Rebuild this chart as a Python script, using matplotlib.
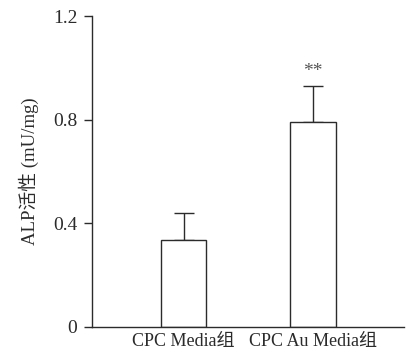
import numpy as np
import matplotlib
matplotlib.use("Agg")
import matplotlib.pyplot as plt

groups = ["CPC Media组", "CPC Au Media组"]
values = [0.336, 0.792]
errors = [0.102, 0.137]
marks = ["", "**"]

fam = ["Liberation Serif", "Noto Sans CJK SC"]
plt.rcParams['font.family'] = fam
ink = "#2b2b2b"

fig = plt.figure(figsize=(4.12, 3.56), dpi=100)
ax = fig.add_axes([0.2233, 0.0815, 0.7573, 0.8735])

x = np.arange(len(groups))
ax.bar(x, values, width=0.352, color="white", edgecolor=ink, linewidth=1.0, zorder=2)
ax.errorbar(x, values, yerr=[np.zeros(len(values)), errors], fmt="none",
            ecolor=ink, elinewidth=1.0, capsize=7, capthick=1.0, zorder=1)

for xi, v, e, m in zip(x, values, errors, marks):
    if m:
        ax.text(xi, v + e + 0.055, m, ha="center", va="center", fontsize=14, color="#555555")

ax.set_xlim(-0.707, 1.703)
ax.set_ylim(0, 1.2)
ax.set_yticks([0, 0.4, 0.8, 1.2])
ax.set_yticklabels(["0", "0.4", "0.8", "1.2"])
ax.set_xticks(x)
ax.set_xticklabels(groups)
ax.tick_params(axis="y", direction="out", length=5.5, width=1.0, color=ink, labelsize=14, pad=5, labelcolor=ink)
ax.tick_params(axis="x", length=0, labelsize=13, pad=4, labelcolor=ink)
for s in ["top", "right"]:
    ax.spines[s].set_visible(False)
for s in ["left", "bottom"]:
    ax.spines[s].set_color(ink)
    ax.spines[s].set_linewidth(1.0)

ax.set_ylabel("ALP活性 (mU/mg)", fontsize=13.5, color=ink, labelpad=10)

fig.savefig("out.png", dpi=100)
